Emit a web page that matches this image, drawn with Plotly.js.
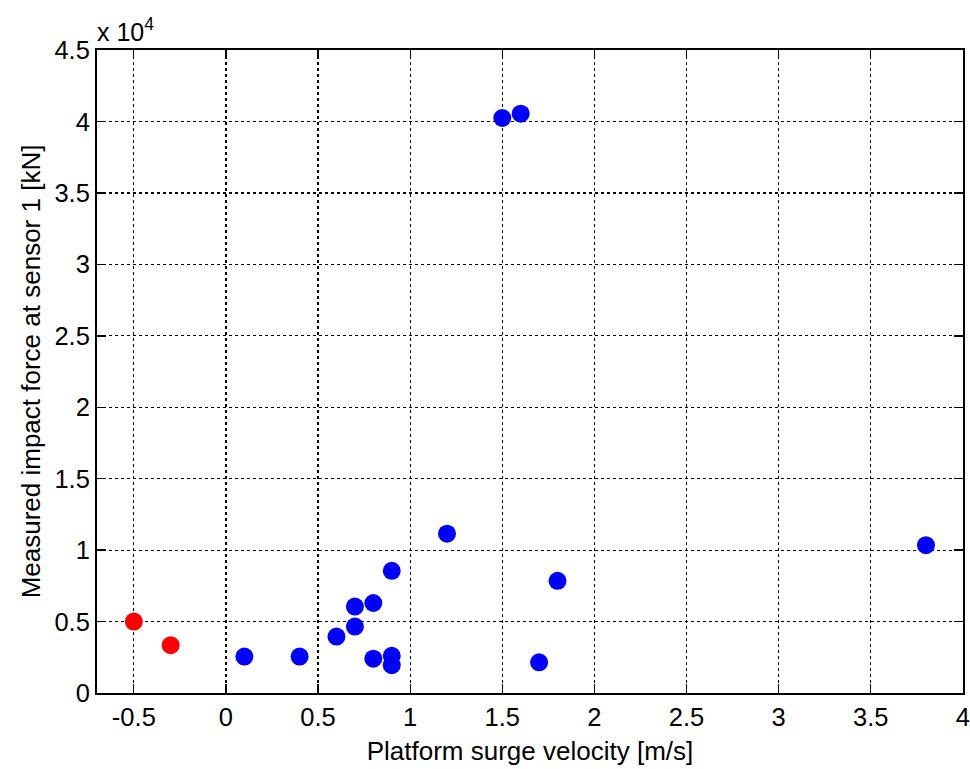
<!DOCTYPE html>
<html>
<head>
<meta charset="utf-8">
<script src="https://cdn.plot.ly/plotly-3.0.1.min.js"></script>
<style>html,body{margin:0;padding:0;background:#fff;}#chart{width:970px;height:769px;}</style>
</head>
<body>
<div id="chart"></div>
<script>
// Negative-velocity (red) points
const redX = [-0.5, -0.3];
const redY = [5000, 3350];
// Positive-velocity (blue) points
const blueX = [0.1, 0.4, 0.6, 0.7, 0.7, 0.8, 0.8, 0.9, 0.9, 0.9, 1.2, 1.5, 1.6, 1.7, 1.8, 3.8];
const blueY = [2550, 2550, 3950, 6050, 4650, 6300, 2400, 8550, 2600, 1950, 11150, 40250, 40550, 2150, 7850, 10350];
// Axis ticks
const xTicks = [-0.5, 0, 0.5, 1, 1.5, 2, 2.5, 3, 3.5, 4];
const xTickText = ['-0.5', '0', '0.5', '1', '1.5', '2', '2.5', '3', '3.5', '4'];
const yTicks = [0, 5000, 10000, 15000, 20000, 25000, 30000, 35000, 40000, 45000];
const yTickText = ['0', '0.5', '1', '1.5', '2', '2.5', '3', '3.5', '4', '4.5'];

const fam = 'Liberation Sans, Arial, sans-serif';
const tickFont = {family: fam, size: 25.5, color: '#000'};
const titleFont = {family: fam, size: 26, color: '#000'};

const traces = [
  {x: blueX, y: blueY, type: 'scatter', mode: 'markers', marker: {color: '#0000ff', size: 18}, hoverinfo: 'x+y'},
  {x: redX, y: redY, type: 'scatter', mode: 'markers', marker: {color: '#ff0000', size: 18}, hoverinfo: 'x+y'}
];

const axisCommon = {
  showline: true, linecolor: '#000', linewidth: 2, mirror: 'ticks',
  ticks: 'inside', ticklen: 9, tickwidth: 1.3, tickcolor: '#000',
  showgrid: true, gridcolor: '#000', gridwidth: 1.2, griddash: 'dot',
  zeroline: false, tickfont: tickFont, ticklabeloverflow: 'allow'
};

const layout = {
  width: 970, height: 769,
  margin: {l: 97, r: 7, t: 50, b: 76},
  paper_bgcolor: '#fff', plot_bgcolor: '#fff',
  showlegend: false,
  font: tickFont,
  xaxis: Object.assign({}, axisCommon, {
    range: [-0.7, 4.001], tickmode: 'array', tickvals: xTicks, ticktext: xTickText,
    title: {text: 'Platform surge velocity [m/s]', font: titleFont, standoff: 12}
  }),
  yaxis: Object.assign({}, axisCommon, {
    range: [0, 45010], tickmode: 'array', tickvals: yTicks, ticktext: yTickText,
    title: {text: 'Measured impact force at sensor 1 [kN]', font: titleFont, standoff: 6}
  }),
  annotations: [{
    xref: 'paper', yref: 'paper', x: 0, y: 1, xanchor: 'left', yanchor: 'bottom',
    text: 'x 10<sup>4</sup>', showarrow: false, font: {family: fam, size: 25, color: '#000'}, yshift: 2, xshift: -2
  }]
};

Plotly.newPlot('chart', traces, layout, {displayModeBar: false, staticPlot: true});
</script>
</body>
</html>
